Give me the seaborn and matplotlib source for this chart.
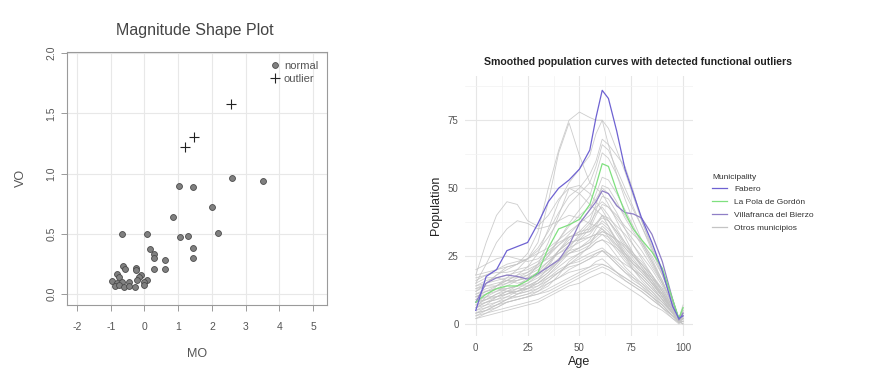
import matplotlib
matplotlib.use("Agg")
import matplotlib.pyplot as plt
from matplotlib.lines import Line2D
import seaborn as sns
import pandas as pd

# ---- left panel: magnitude-shape plot ----
mo_normal = [-0.67, 0.06, 1.01, 1.44, 2.61, 3.53, 2.01, 0.86, 2.17, 1.06, 1.28, 1.45,
             1.45, 0.16, 0.29, 0.29, 0.60, 0.62, 0.29, -0.63, -0.58, -0.24, -0.26,
             -0.11, -0.17, 0.07, -0.01, -0.01, -0.83, -0.75, -0.95, -0.83, -0.66,
             -0.46, -0.88, -0.75, -0.61, -0.46, -0.28, -0.22]
vo_normal = [0.50, 0.50, 0.90, 0.89, 0.96, 0.94, 0.72, 0.64, 0.51, 0.47, 0.48, 0.38,
             0.30, 0.37, 0.33, 0.30, 0.285, 0.21, 0.205, 0.23, 0.21, 0.22, 0.20,
             0.16, 0.14, 0.12, 0.10, 0.075, 0.17, 0.14, 0.11, 0.095, 0.10,
             0.10, 0.066, 0.075, 0.058, 0.066, 0.055, 0.116]
mo_outlier = [1.20, 1.47, 2.57]
vo_outlier = [1.22, 1.30, 1.58]

# ---- right panel: smoothed population curves ----
ages = [0, 5, 10, 15, 20, 25, 30, 35, 40, 45, 50, 55, 58, 61, 64, 68, 72, 76, 80, 85, 90, 95, 98, 100]

fabero = [5, 17.5, 20, 27, 28.5, 30, 37, 45, 50, 53, 57, 64, 76, 86, 83, 71, 57, 48, 39, 30, 19.5, 6.5, 2, 3]
la_pola = [8, 11, 13, 14, 14, 16, 19, 28, 35, 36.5, 38.5, 44, 51, 59, 58, 49, 41, 35, 31, 26.5, 20.5, 9, 2, 6]
villafranca = [8, 15, 17, 18, 17.5, 16.5, 18.5, 21, 23.5, 29, 37, 42, 45, 49, 48, 43.5, 41, 40.5, 39, 33, 23, 9, 1.5, 4]

otros_01 = [2, 3, 4, 5, 6, 7, 8, 10, 12, 14, 15, 17, 18, 19, 18, 16, 14, 12, 10, 7, 5, 2, 0.5, 1]
otros_02 = [4, 5, 7, 8, 9, 10, 11, 13, 15, 17, 19, 21, 23, 24, 22, 19, 16, 14, 12, 9, 6, 3, 1, 2]
otros_03 = [6, 8, 9, 10, 10, 11, 13, 16, 19, 22, 24, 26, 27, 28, 26, 23, 20, 17, 14, 10, 7, 3, 1, 0]
otros_04 = [10, 12, 13, 12, 11, 12, 14, 17, 20, 22, 23, 25, 26, 27, 25, 22, 19, 17, 15, 12, 8, 4, 1, 3]
otros_05 = [3, 5, 7, 9, 10, 11, 12, 14, 18, 23, 26, 28, 30, 31, 29, 25, 21, 18, 15, 11, 7, 3, 1, 1]
otros_06 = [8, 9, 11, 13, 14, 14, 15, 18, 22, 26, 28, 30, 33, 35, 33, 29, 25, 21, 18, 14, 9, 4, 1, 2]
otros_07 = [12, 14, 15, 16, 16, 17, 18, 20, 24, 27, 28, 31, 35, 38, 36, 31, 26, 22, 19, 15, 10, 5, 1, 4]
otros_08 = [15, 17, 17, 16, 15, 16, 19, 23, 27, 30, 31, 33, 36, 40, 38, 34, 30, 26, 22, 17, 12, 5, 1, 3]
otros_09 = [5, 7, 10, 12, 13, 13, 14, 16, 19, 21, 22, 24, 25, 27, 26, 24, 22, 20, 18, 14, 9, 4, 1, 5]
otros_10 = [9, 10, 10, 11, 12, 14, 16, 19, 23, 28, 33, 37, 41, 43, 40, 35, 30, 25, 21, 16, 10, 5, 1, 2]
otros_11 = [14, 15, 16, 17, 17, 18, 20, 23, 26, 29, 32, 36, 42, 47, 46, 41, 35, 29, 24, 18, 12, 6, 1, 3]
otros_12 = [7, 9, 11, 12, 12, 13, 16, 21, 27, 32, 34, 35, 37, 39, 38, 34, 29, 25, 22, 18, 13, 6, 1, 2]
otros_13 = [18, 19, 20, 21, 22, 24, 26, 28, 31, 34, 37, 42, 48, 54, 53, 48, 42, 36, 30, 23, 16, 7, 1, 4]
otros_14 = [11, 13, 14, 16, 18, 19, 21, 25, 31, 37, 42, 47, 55, 63, 61, 55, 48, 42, 36, 27, 18, 8, 2, 6]
otros_15 = [16, 18, 20, 22, 23, 24, 27, 32, 38, 44, 48, 52, 58, 66, 64, 57, 50, 43, 36, 28, 19, 9, 2, 5]
otros_16 = [13, 15, 18, 21, 22, 24, 28, 34, 41, 47, 50, 55, 60, 68, 66, 62, 58, 49, 38, 29, 20, 9, 2, 7]
otros_17 = [12, 15, 18, 20, 22, 26, 34, 50, 64, 75, 78, 76, 75, 75, 66, 55, 46, 38, 31, 24, 16, 7, 2, 3]
otros_18 = [6, 10, 14, 17, 20, 24, 30, 45, 63, 74, 62, 52, 50, 48, 44, 38, 32, 26, 21, 16, 11, 5, 1, 3]
otros_19 = [18, 30, 40, 45, 44, 38, 36, 40, 46, 50, 48, 44, 42, 40, 36, 30, 25, 20, 16, 12, 8, 4, 1, 2]
otros_20 = [15, 22, 30, 35, 38, 37, 35, 36, 38, 40, 39, 37, 36, 35, 32, 28, 24, 20, 17, 13, 9, 4, 1, 3]
otros_21 = [20, 22, 24, 25, 24, 23, 24, 27, 30, 32, 33, 34, 36, 37, 35, 31, 27, 23, 20, 16, 11, 5, 1, 2]
otros_22 = [4, 5, 6, 8, 9, 10, 12, 15, 17, 19, 20, 21, 22, 22, 21, 19, 17, 15, 13, 10, 7, 3, 0.5, 1]
otros_23 = [10, 11, 12, 14, 16, 17, 19, 21, 24, 26, 27, 29, 31, 33, 32, 29, 26, 23, 20, 15, 10, 4, 1, 0]
otros_24 = [6, 7, 8, 9, 11, 13, 15, 17, 19, 22, 25, 29, 33, 36, 34, 30, 26, 22, 19, 15, 11, 5, 1, 2]
otros_25 = [2, 4, 6, 8, 9, 10, 11, 12, 14, 16, 18, 20, 21, 22, 21, 19, 17, 15, 13, 10, 6, 2, 0, 1]
otros_26 = [13, 14, 14, 15, 16, 18, 21, 25, 29, 32, 33, 34, 37, 40, 39, 36, 33, 29, 25, 20, 14, 6, 1, 2]
otros_27 = [8, 10, 12, 13, 14, 15, 17, 20, 23, 26, 28, 30, 32, 34, 33, 31, 29, 26, 23, 18, 12, 5, 1, 4]
otros_28 = [5, 6, 7, 9, 11, 12, 13, 15, 17, 20, 22, 24, 26, 27, 25, 22, 19, 16, 14, 11, 8, 4, 1, 0]
otros_29 = [17, 18, 19, 19, 20, 21, 23, 26, 29, 33, 37, 40, 43, 45, 43, 39, 35, 31, 27, 21, 15, 7, 2, 5]
otros_30 = [9, 11, 13, 15, 17, 19, 22, 26, 31, 36, 40, 43, 46, 50, 48, 44, 40, 35, 30, 23, 15, 7, 1, 3]
otros_31 = [3, 4, 5, 6, 7, 8, 9, 11, 13, 15, 17, 19, 20, 21, 20, 18, 16, 14, 12, 9, 6, 3, 0.5, 2]
otros_32 = [11, 12, 13, 13, 14, 16, 18, 22, 27, 31, 34, 38, 44, 51, 50, 45, 39, 34, 29, 22, 15, 7, 1, 3]
otros_33 = [7, 8, 9, 11, 13, 15, 18, 22, 27, 30, 31, 32, 33, 34, 33, 31, 28, 25, 22, 17, 11, 5, 1, 2]
otros_34 = [14, 16, 17, 18, 19, 20, 22, 24, 26, 28, 30, 32, 33, 33, 31, 27, 23, 20, 17, 13, 9, 4, 1, 1]
otros_35 = [4, 6, 8, 10, 12, 14, 16, 19, 23, 27, 31, 35, 40, 44, 43, 40, 36, 33, 30, 25, 18, 8, 2, 6]
otros_36 = [8, 9, 10, 11, 12, 13, 15, 18, 21, 24, 26, 28, 30, 31, 30, 28, 25, 22, 20, 17, 13, 6, 1, 3]
otros_37 = [10, 12, 14, 16, 18, 21, 26, 35, 45, 52, 57, 62, 70, 75, 72, 64, 56, 47, 38, 28, 19, 8, 2, 4]
otros_38 = [6, 8, 10, 12, 14, 17, 22, 30, 40, 50, 51, 48, 45, 42, 38, 33, 28, 24, 20, 15, 10, 5, 1, 2]

otros = [otros_01, otros_02, otros_03, otros_04, otros_05, otros_06, otros_07, otros_08,
         otros_09, otros_10, otros_11, otros_12, otros_13, otros_14, otros_15, otros_16,
         otros_17, otros_18, otros_19, otros_20, otros_21, otros_22, otros_23, otros_24,
         otros_25, otros_26, otros_27, otros_28, otros_29, otros_30, otros_31, otros_32,
         otros_33, otros_34, otros_35, otros_36, otros_37, otros_38]

highlight_names = ["Fabero", "La Pola de Gordón", "Villafranca del Bierzo"]
highlight_values = [fabero, la_pola, villafranca]
colors = {"Fabero": "#6e62d2",
          "La Pola de Gordón": "#7fe07f",
          "Villafranca del Bierzo": "#8f7fc6",
          "Otros municipios": "#c4c4c4"}

plt.rcParams["font.family"] = ["Liberation Sans", "DejaVu Sans"]
plt.rcParams["axes.unicode_minus"] = False

fig = plt.figure(figsize=(8.7, 3.84), dpi=100)

# ---------- left: magnitude shape plot ----------
ax1 = fig.add_axes([0.077, 0.206, 0.299, 0.659])
sns.scatterplot(x=mo_normal, y=vo_normal, ax=ax1, marker="o", s=18,
                color="#808080", edgecolor="#4a4a4a", linewidth=0.6, zorder=3)
sns.scatterplot(x=mo_outlier, y=vo_outlier, ax=ax1, marker="+", s=45,
                color="#222222", linewidth=0.8, zorder=3)
ax1.set_xlim(-2.3, 5.42)
ax1.set_ylim(-0.09, 2.01)
ax1.set_xticks(range(-2, 6))
ax1.set_yticks([0.0, 0.5, 1.0, 1.5, 2.0])
ax1.set_yticklabels(["0.0", "0.5", "1.0", "1.5", "2.0"], rotation=90, va="center")
ax1.grid(True, color="#e8e8e8", linewidth=0.8)
ax1.set_axisbelow(True)
for sp in ax1.spines.values():
    sp.set_color("#9a9a9a")
    sp.set_linewidth(0.8)
ax1.tick_params(colors="#9a9a9a", labelcolor="#555555", labelsize=7.5, length=4, width=0.7)
ax1.tick_params(axis="x", pad=8)
ax1.set_xlabel("MO", fontsize=9, color="#555555", labelpad=12)
ax1.set_ylabel("VO", fontsize=9, color="#555555", labelpad=14)
fig.text(195 / 870, 1 - 30 / 384, "Magnitude Shape Plot", ha="center", va="center",
         fontsize=11.5, color="#444444")
leg_handles = [Line2D([], [], marker="o", linestyle="none", markersize=4.2,
                      markerfacecolor="#808080", markeredgecolor="#4a4a4a", markeredgewidth=0.6),
               Line2D([], [], marker="+", linestyle="none", markersize=7,
                      color="#222222", markeredgewidth=0.8)]
leg1 = ax1.legend(leg_handles, ["normal", "outlier"], loc="upper right", frameon=False,
                  fontsize=8, handletextpad=0.2, labelspacing=0.25, borderaxespad=0.4,
                  handlelength=1.2)
for t in leg1.get_texts():
    t.set_color("#555555")

# ---------- right: population curves ----------
ax2 = fig.add_axes([0.535, 0.1255, 0.262, 0.6775])

rows = []
for i, vals in enumerate(otros):
    for a, v in zip(ages, vals):
        rows.append({"id": i, "age": a, "population": v})
df_otros = pd.DataFrame(rows)
sns.lineplot(data=df_otros, x="age", y="population", units="id", estimator=None,
             color=colors["Otros municipios"], linewidth=0.6, alpha=0.85, ax=ax2,
             legend=False)

for name, vals in zip(highlight_names[::-1], highlight_values[::-1]):
    df_h = pd.DataFrame({"age": ages, "population": vals})
    sns.lineplot(data=df_h, x="age", y="population", color=colors[name],
                 linewidth=0.9, ax=ax2, legend=False)

ax2.set_xlim(-5, 105)
ax2.set_ylim(-4.35, 91.4)
ax2.set_xticks([0, 25, 50, 75, 100])
ax2.set_yticks([0, 25, 50, 75])
ax2.set_xticks([12.5, 37.5, 62.5, 87.5], minor=True)
ax2.set_yticks([12.5, 37.5, 62.5, 87.5], minor=True)
ax2.grid(True, which="major", color="#e6e6e6", linewidth=0.8)
ax2.grid(True, which="minor", color="#f2f2f2", linewidth=0.5)
ax2.set_axisbelow(True)
for sp in ax2.spines.values():
    sp.set_visible(False)
ax2.tick_params(which="both", length=0, labelsize=7, labelcolor="#555555", pad=5)
ax2.set_xlabel("Age", fontsize=9, color="#222222", labelpad=2)
ax2.set_ylabel("Population", fontsize=9, color="#222222", labelpad=4)
fig.text(638 / 870, 1 - 62 / 384,
         "Smoothed population curves with detected functional outliers",
         ha="center", va="center", fontsize=7.6, fontweight="bold", color="#222222")

handles2 = [Line2D([], [], color=colors[n], linewidth=0.9)
            for n in highlight_names + ["Otros municipios"]]
leg2 = ax2.legend(handles2, highlight_names + ["Otros municipios"],
                  title="Municipality", loc="upper left",
                  bbox_to_anchor=(705 / 870, 1 - 166 / 384),
                  bbox_transform=fig.transFigure, frameon=False, fontsize=6,
                  title_fontsize=6, handlelength=1.8, handletextpad=0.8,
                  labelspacing=0.6)
leg2._legend_box.align = "left"
for t in leg2.get_texts():
    t.set_color("#333333")
leg2.get_title().set_color("#333333")

fig.savefig("out.png", dpi=100)
